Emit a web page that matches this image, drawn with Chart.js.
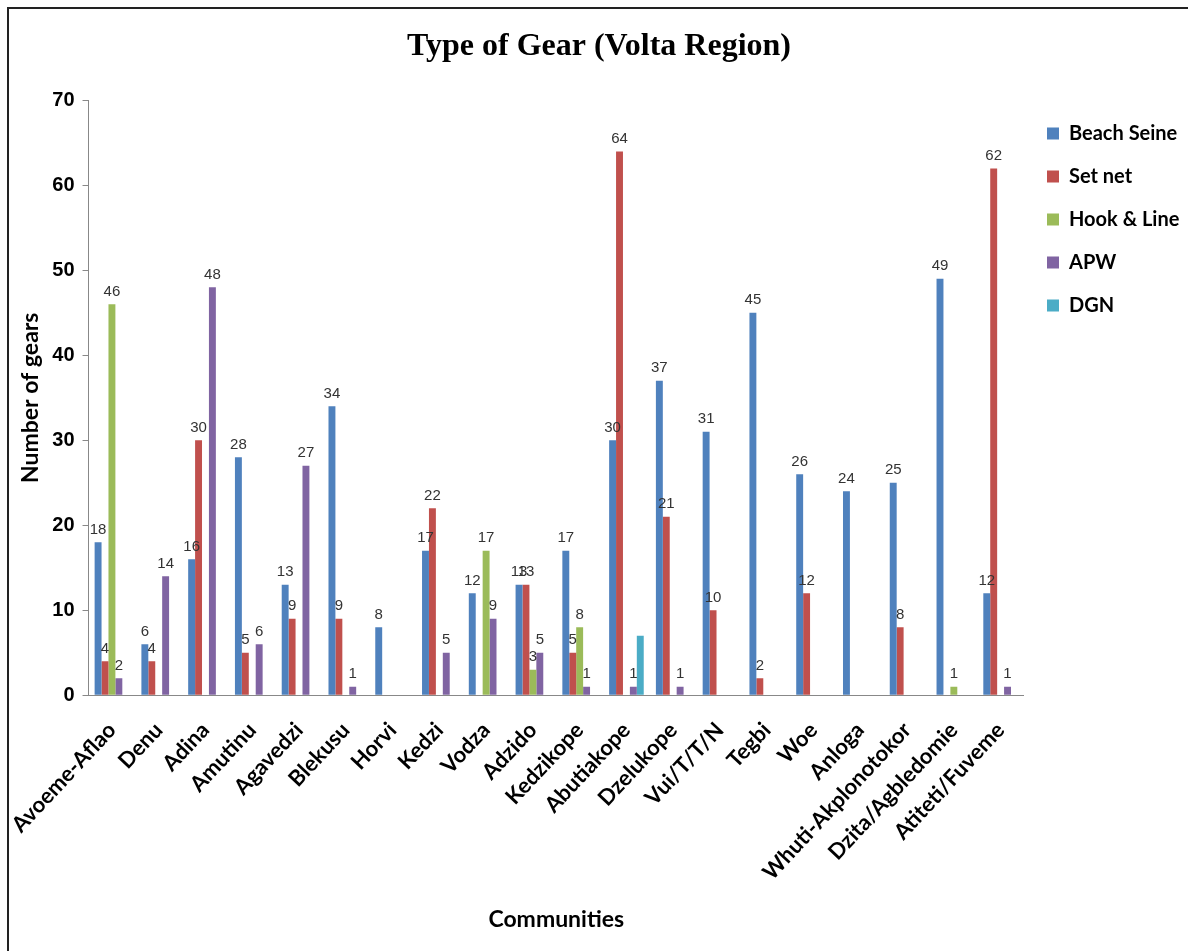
<!DOCTYPE html>
<html>
<head>
<meta charset="utf-8">
<script src="https://cdn.jsdelivr.net/npm/chart.js@4"></script>
<style>
  body { margin: 0; background: #fff; }
  #frame { position: absolute; left: 7px; top: 7px; width: 1200px; height: 1000px; border: 2px solid #222; box-sizing: border-box; }
  #wrap { position: absolute; left: 0; top: 0; width: 1188px; height: 951px; }
</style>
</head>
<body>
<div id="frame"></div>
<div id="wrap"><canvas id="chart"></canvas></div>
<script>
// values, missing bars are null
const communities = [
  "Avoeme-Aflao", "Denu", "Adina", "Amutinu", "Agavedzi", "Blekusu", "Horvi",
  "Kedzi", "Vodza", "Adzido", "Kedzikope", "Abutiakope", "Dzelukope",
  "Vui/T/T/N", "Tegbi", "Woe", "Anloga", "Whuti-Akplonotokor",
  "Dzita/Agbledomie", "Atiteti/Fuveme",
];
const beachSeine = [18, 6, 16, 28, 13, 34, 8, 17, 12, 13, 17, 30, 37, 31, 45, 26, 24, 25, 49, 12];
const setNet = [4, 4, 30, 5, 9, 9, null, 22, null, 13, 5, 64, 21, 10, 2, 12, null, 8, null, 62];
const hookLine = [46, null, null, null, null, null, null, null, 17, 3, 8, null, null, null, null, null, null, null, 1, null];
const apw = [2, 14, 48, 6, 27, 1, null, 5, 9, 5, 1, 1, 1, null, null, null, null, null, null, 1];
const dgn = [null, null, null, null, null, null, null, null, null, null, null, 7, null, null, null, null, null, null, null, null];
const yTicks = [0, 10, 20, 30, 40, 50, 60, 70];

// bar value labels (DGN had none in the original)
const valueLabels = {
  id: "valueLabels",
  afterDatasetsDraw(chart) {
    const ctx = chart.ctx;
    ctx.save();
    ctx.font = "15px 'Liberation Sans'";
    ctx.fillStyle = "#333";
    ctx.textAlign = "center";
    ctx.textBaseline = "bottom";
    chart.data.datasets.forEach((ds, i) => {
      if (ds.label === "DGN") return;
      chart.getDatasetMeta(i).data.forEach((bar, j) => {
        const v = ds.data[j];
        if (v == null) return;
        ctx.fillText(v, bar.x, bar.y - 5);
      });
    });
    ctx.restore();
  },
};

new Chart(document.getElementById("chart"), {
  type: "bar",
  data: {
    labels: communities,
    datasets: [
      { label: "Beach Seine", data: beachSeine, backgroundColor: "#4F81BD" },
      { label: "Set net", data: setNet, backgroundColor: "#C0504D" },
      { label: "Hook & Line", data: hookLine, backgroundColor: "#9BBB59" },
      { label: "APW", data: apw, backgroundColor: "#8064A2" },
      { label: "DGN", data: dgn, backgroundColor: "#4BACC6" },
    ],
  },
  options: {
    responsive: true,
    maintainAspectRatio: false,
    animation: false,
    datasets: {
      bar: {
        barPercentage: 1,
        categoryPercentage: 0.74,
        borderWidth: 0,
      },
    },
    layout: {
      padding: { top: 20, left: 10, right: 0, bottom: 14 },
    },
    plugins: {
      tooltip: { enabled: false },
      title: {
        display: true,
        text: "Type of Gear (Volta Region)",
        color: "#000",
        font: { family: "'Liberation Serif'", size: 32, weight: "bold" },
        padding: { top: 8, bottom: 34 },
      },
      legend: {
        position: "right",
        align: "start",
        fullSize: false,
        maxWidth: 164,
        labels: {
          color: "#000",
          font: { family: "Lato", size: 20, weight: "bold" },
          boxWidth: 12,
          boxHeight: 12,
          padding: 23,
        },
      },
    },
    scales: {
      x: {
        grid: { display: false },
        border: { color: "#888" },
        ticks: {
          color: "#000",
          maxRotation: 47,
          minRotation: 47,
          autoSkip: false,
          padding: 14,
          font: { family: "Lato", size: 22, weight: "bold" },
        },
        title: {
          display: true,
          text: "Communities",
          color: "#000",
          font: { family: "Lato", size: 23, weight: "bold" },
          padding: { top: 6 },
        },
      },
      y: {
        min: 0,
        max: 70,
        afterBuildTicks: (axis) => {
          axis.ticks = yTicks.map((v) => ({ value: v }));
        },
        grid: { drawOnChartArea: false, tickLength: 6, color: "#888" },
        border: { color: "#888" },
        ticks: {
          color: "#000",
          padding: 8,
          font: { family: "'Liberation Sans'", size: 20, weight: "bold" },
        },
        title: {
          display: true,
          text: "Number of gears",
          color: "#000",
          font: { family: "Lato", size: 23, weight: "bold" },
          padding: { bottom: 0 },
        },
      },
    },
  },
  plugins: [valueLabels],
});
</script>
</body>
</html>
